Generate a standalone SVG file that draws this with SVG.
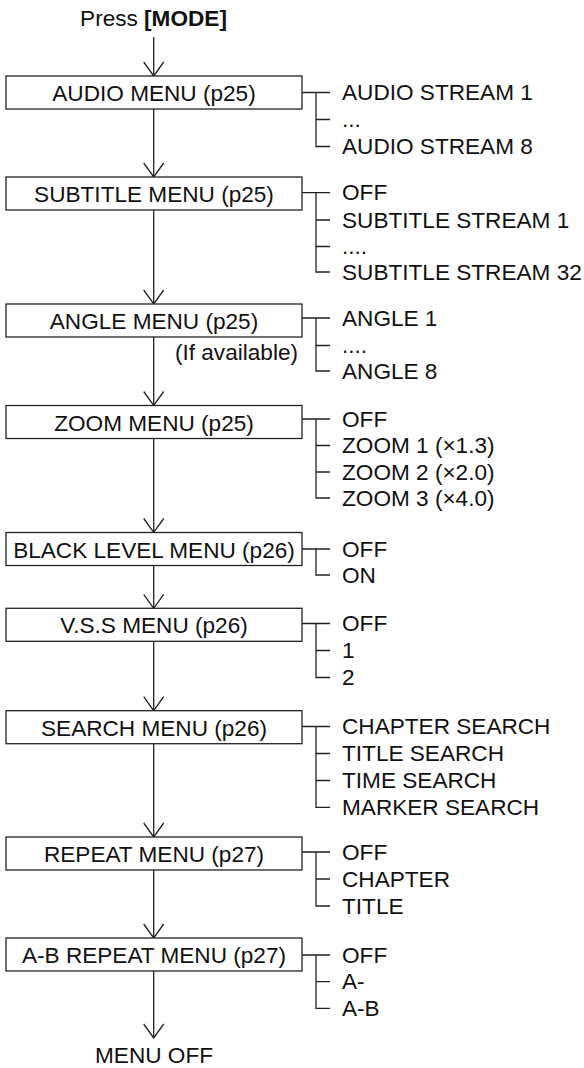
<svg xmlns="http://www.w3.org/2000/svg" width="584" height="1068" viewBox="0 0 584 1068">
<style>
text{font-family:"Liberation Sans",Arial,sans-serif;font-size:22.6px;fill:#111}
.box{fill:#fff;stroke:#222;stroke-width:1.3}
.ln{fill:none;stroke:#222;stroke-width:1.3}
.c{text-anchor:middle}
</style>
<defs>
<marker id="ah" viewBox="-15 -11 16 22" refX="0" refY="0" markerWidth="16" markerHeight="22" markerUnits="userSpaceOnUse" orient="auto">
<path d="M-14,-10 L0,0 L-14,10" fill="none" stroke="#222" stroke-width="1.3"/>
</marker>
</defs>
<rect width="584" height="1068" fill="#fff"/>
<g id="connectors" class="ln" marker-end="url(#ah)">
<line x1="153.7" y1="37" x2="153.7" y2="76"/>
<line x1="153.7" y1="109" x2="153.7" y2="177"/>
<line x1="153.7" y1="210" x2="153.7" y2="304"/>
<line x1="153.7" y1="337" x2="153.7" y2="405.5"/>
<line x1="153.7" y1="438.5" x2="153.7" y2="532.5"/>
<line x1="153.7" y1="565.5" x2="153.7" y2="608.3"/>
<line x1="153.7" y1="641.3" x2="153.7" y2="710.7"/>
<line x1="153.7" y1="743.7" x2="153.7" y2="837"/>
<line x1="153.7" y1="870" x2="153.7" y2="938"/>
<line x1="153.7" y1="971" x2="153.7" y2="1038"/>
</g>
<g id="start"><text class="c" x="153.5" y="26">Press <tspan font-weight="bold">[MODE]</tspan></text></g>
<g id="audio">
<rect class="box" x="6" y="76" width="296" height="33"/>
<text class="c" x="154" y="101">AUDIO MENU (p25)</text>
<path class="ln" d="M302,92.5 H330 M316,92.5 V146.5 H330 M316,119.5 H330"/>
<text x="342" y="100">AUDIO STREAM 1</text>
<text x="342" y="127">...</text>
<text x="342" y="154">AUDIO STREAM 8</text>
</g>
<g id="subtitle">
<rect class="box" x="6" y="177" width="296" height="33"/>
<text class="c" x="154" y="202">SUBTITLE MENU (p25)</text>
<path class="ln" d="M302,192.7 H330 M316,192.7 V272 H330 M316,220 H330 M316,246.5 H330"/>
<text x="342" y="200">OFF</text>
<text x="342" y="227.5">SUBTITLE STREAM 1</text>
<text x="342" y="254">....</text>
<text x="342" y="279.5">SUBTITLE STREAM 32</text>
</g>
<g id="angle">
<rect class="box" x="6" y="304" width="296" height="33"/>
<text class="c" x="154" y="329">ANGLE MENU (p25)</text>
<text x="298" y="360" text-anchor="end">(If available)</text>
<path class="ln" d="M302,318 H330 M316,318 V371 H330 M316,345.5 H330"/>
<text x="342" y="325.5">ANGLE 1</text>
<text x="342" y="353">....</text>
<text x="342" y="378.5">ANGLE 8</text>
</g>
<g id="zoom">
<rect class="box" x="6" y="405.5" width="296" height="33"/>
<text class="c" x="154" y="430.5">ZOOM MENU (p25)</text>
<path class="ln" d="M302,419 H330 M316,419 V498 H330 M316,445.5 H330 M316,472 H330"/>
<text x="342" y="426.5">OFF</text>
<text x="342" y="453">ZOOM 1 (×1.3)</text>
<text x="342" y="479.5">ZOOM 2 (×2.0)</text>
<text x="342" y="505.5">ZOOM 3 (×4.0)</text>
</g>
<g id="blacklevel">
<rect class="box" x="6" y="532.5" width="296" height="33"/>
<text class="c" x="154" y="557.5">BLACK LEVEL MENU (p26)</text>
<path class="ln" d="M302,549 H330 M316,549 V575 H330"/>
<text x="342" y="556.5">OFF</text>
<text x="342" y="582.5">ON</text>
</g>
<g id="vss">
<rect class="box" x="6" y="608.3" width="296" height="33"/>
<text class="c" x="154" y="633.3">V.S.S MENU (p26)</text>
<path class="ln" d="M302,623.5 H330 M316,623.5 V677.5 H330 M316,650.5 H330"/>
<text x="342" y="631">OFF</text>
<text x="342" y="658">1</text>
<text x="342" y="685">2</text>
</g>
<g id="search">
<rect class="box" x="6" y="710.7" width="296" height="33"/>
<text class="c" x="154" y="735.7">SEARCH MENU (p26)</text>
<path class="ln" d="M302,726.5 H330 M316,726.5 V807.3 H330 M316,753.5 H330 M316,780.5 H330"/>
<text x="342" y="734">CHAPTER SEARCH</text>
<text x="342" y="761">TITLE SEARCH</text>
<text x="342" y="788">TIME SEARCH</text>
<text x="342" y="815">MARKER SEARCH</text>
</g>
<g id="repeat">
<rect class="box" x="6" y="837" width="296" height="33"/>
<text class="c" x="154" y="862">REPEAT MENU (p27)</text>
<path class="ln" d="M302,852 H330 M316,852 V906 H330 M316,879 H330"/>
<text x="342" y="859.5">OFF</text>
<text x="342" y="886.5">CHAPTER</text>
<text x="342" y="913.5">TITLE</text>
</g>
<g id="abrepeat">
<rect class="box" x="6" y="938" width="296" height="33"/>
<text class="c" x="154" y="963">A-B REPEAT MENU (p27)</text>
<path class="ln" d="M302,955 H330 M316,955 V1008.3 H330 M316,981.7 H330"/>
<text x="342" y="962.5">OFF</text>
<text x="342" y="989">A-</text>
<text x="342" y="1016">A-B</text>
</g>
<g id="end"><text class="c" x="154" y="1063">MENU OFF</text></g>
</svg>
